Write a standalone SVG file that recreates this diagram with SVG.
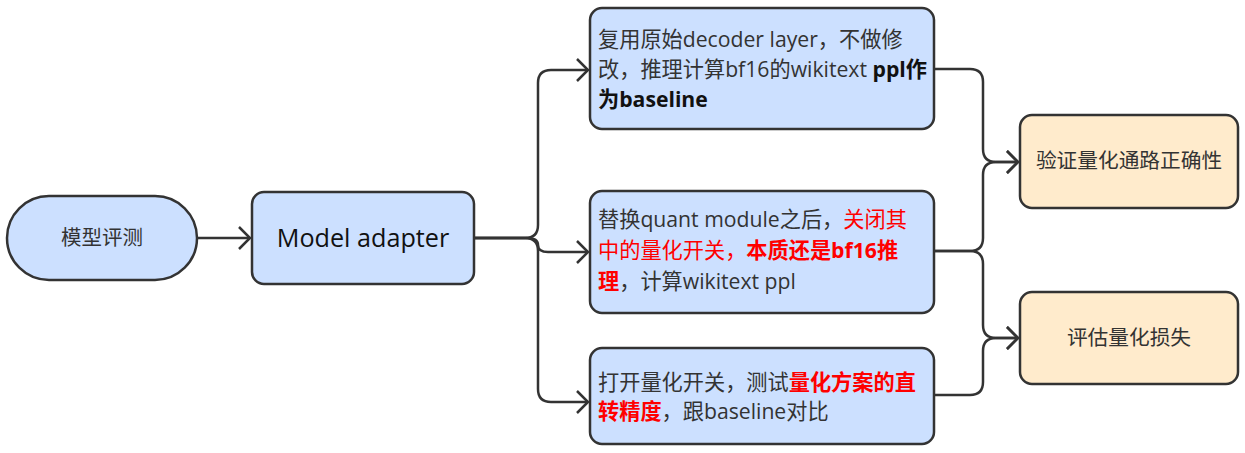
<svg xmlns="http://www.w3.org/2000/svg" width="1245" height="453" viewBox="0 0 1245 453">
<style>
.b{fill:#cce0ff;stroke:#333;stroke-width:2.5}
.o{fill:#ffebcc;stroke:#333;stroke-width:2.5}
.t{font-family:"Open Sans","Noto Sans CJK SC","Microsoft YaHei",sans-serif;font-size:21.2px;fill:#333}
.c{text-anchor:middle}
.r{fill:#ff0000}
.k{font-weight:bold}
.l{fill:none;stroke:#333;stroke-width:2.5;marker-end:url(#a)}
</style>
<defs>
<marker id="a" markerUnits="userSpaceOnUse" markerWidth="16" markerHeight="26" viewBox="-13 -13 16 26" refX="0" refY="0" orient="auto">
<path d="M-11,-11 L0,0 L-11,11" fill="none" stroke="#333" stroke-width="2.5"/>
</marker>
</defs>
<rect width="1245" height="453" fill="#fff"/>
<g id="connectors">
<path class="l" d="M197,238 H250"/>
<path class="l" d="M474,238 H525 Q538,238 538,225 V83 Q538,70 551,70 H588"/>
<path class="l" d="M474,238 H527 Q538,238 538,245 Q538,252 548,252 H588"/>
<path class="l" d="M474,238 H525 Q538,238 538,251 V389 Q538,402 551,402 H588"/>
<path class="l" d="M934,69 H970 Q983,69 983,82 V149 Q983,162 996,162 H1018"/>
<path class="l" d="M934,251 H970 Q983,251 983,238 V175 Q983,162 996,162 H1018"/>
<path class="l" d="M934,251 H970 Q983,251 983,264 V325 Q983,338 996,338 H1018"/>
<path class="l" d="M934,395 H970 Q983,395 983,382 V351 Q983,338 996,338 H1018"/>
</g>
<g id="n-eval">
<rect class="b" x="7" y="196" width="190" height="84" rx="42"/>
<text class="t c" x="102" y="245" style="font-size:20.5px">模型评测</text>
</g>
<g id="n-adapter">
<rect class="b" x="252" y="192" width="222" height="92" rx="12"/>
<text class="t c" x="363" y="247" style="font-size:25.2px;fill:#111">Model adapter</text>
</g>
<g id="n-baseline">
<rect class="b" x="590" y="8" width="344" height="121" rx="12"/>
<text class="t" x="598" y="47">复用原始decoder layer，不做修</text>
<text class="t" x="598" y="77">改，推理计算bf16的wikitext <tspan class="k" style="fill:#111">ppl作</tspan></text>
<text class="t k" x="598" y="107" style="fill:#111">为baseline</text>
</g>
<g id="n-quantoff">
<rect class="b" x="590" y="191" width="344" height="122" rx="12"/>
<text class="t" x="598" y="227">替换quant module之后，<tspan class="r">关闭其</tspan></text>
<text class="t r" x="598" y="258">中的量化开关，<tspan class="k">本质还是bf16推</tspan></text>
<text class="t" x="598" y="289"><tspan class="r k">理</tspan>，计算wikitext ppl</text>
</g>
<g id="n-quanton">
<rect class="b" x="590" y="348" width="344" height="96" rx="12"/>
<text class="t" x="598" y="390">打开量化开关，测试<tspan class="r k">量化方案的直</tspan></text>
<text class="t" x="598" y="419"><tspan class="r k">转精度</tspan>，跟baseline对比</text>
</g>
<g id="n-verify">
<rect class="o" x="1020" y="115" width="218" height="93" rx="12"/>
<text class="t c" x="1129" y="168" style="font-size:20.7px">验证量化通路正确性</text>
</g>
<g id="n-loss">
<rect class="o" x="1020" y="292" width="218" height="92" rx="12"/>
<text class="t c" x="1129" y="345" style="font-size:20.7px">评估量化损失</text>
</g>
</svg>
